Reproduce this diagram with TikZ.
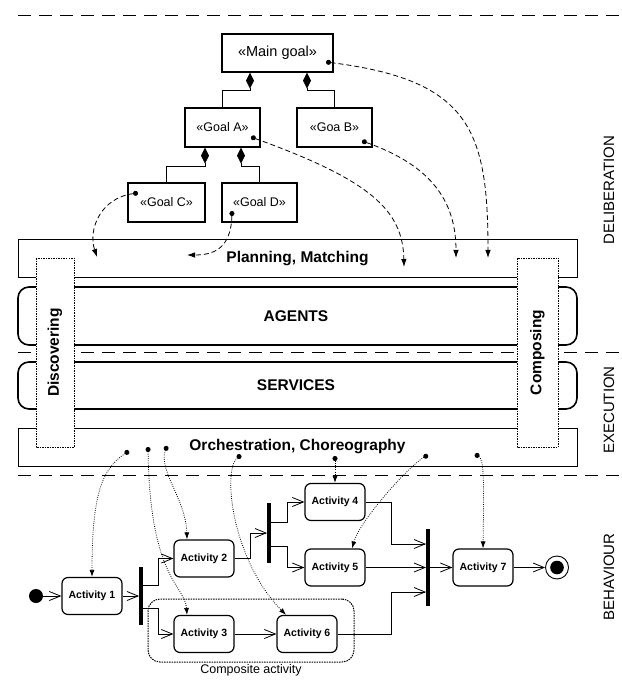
\documentclass[tikz,border=0pt]{standalone}
\usepackage{fontspec}
\setmainfont{Liberation Sans}
\usetikzlibrary{arrows.meta,positioning}

\begin{document}
\begin{tikzpicture}[x=1pt,y=-1pt,
      goal/.style={draw,line width=1.3pt,minimum width=75pt,minimum height=39pt,inner sep=1pt,
        font=\fontsize{12.5}{14}\selectfont},
      layer/.style={draw,line width=1pt,minimum width=559pt,inner sep=0pt,
        font=\fontsize{15.5}{18}\selectfont\bfseries},
      band/.style={minimum width=443pt,inner sep=0pt,font=\fontsize{15.5}{18}\selectfont\bfseries},
      bandline/.style={line width=1.7pt},
      dots/.style={dash pattern=on 1.5pt off 1pt},
      side/.style={draw,dots,line width=1pt,fill=white,rotate=90,minimum width=189pt,inner sep=0pt,
        font=\fontsize{15.5}{18}\selectfont\bfseries},
      brace/.style={line width=1.6pt,rounded corners=11pt},
      level/.style={rotate=90,inner sep=0pt,font=\fontsize{15}{18}\selectfont},
      sep/.style={dash pattern=on 13pt off 8pt,line width=0.8pt},
      part/.style={{Diamond[length=16pt,width=8pt]}-,line width=0.8pt},
      dep/.style={{Circle[length=5pt]}-{Latex[length=8pt,width=5.5pt]},dash pattern=on 5pt off 3pt,line width=0.8pt},
      bind/.style={{Circle[length=5pt]}-{Latex[length=7pt,width=5pt]},dash pattern=on 0.8pt off 1.4pt,line width=0.8pt},
      act/.style={draw,line width=1.2pt,rounded corners=6pt,minimum width=60pt,minimum height=37pt,
        inner sep=1pt,font=\fontsize{10.5}{12}\selectfont\bfseries},
      bar/.style={fill,minimum width=3.5pt,inner sep=0pt},
      flow/.style={-{Straight Barb[length=11pt,width=9pt]},line width=0.8pt}]
  \useasboundingbox (0,0) rectangle (621,684);

  \foreach \y in {15,352,475}
    \draw[sep] (18,\y) -- (621,\y);
  \foreach \t/\y in {DELIBERATION/190,EXECUTION/410,BEHAVIOUR/577}
    \node[level] (lvl\y) at (609,\y) {\t};

  \node[goal,minimum width=111pt,minimum height=38pt,font=\fontsize{14.5}{16}\selectfont]
    (main) at (277.5,53) {«Main goal»};
  \node[goal] (goalA) at (222.5,127.5) {«Goal A»};
  \node[goal] (goalB) at (334.5,127.5) {«Goa B»};
  \node[goal,minimum width=77pt] (goalC) at (166.5,202.5) {«Goal C»};
  \node[goal] (goalD) at (259.5,202.5) {«Goal D»};

  \draw[part] ([xshift=-27.5pt]main.south) -- ++(0,18) -| (goalA.north);
  \draw[part] ([xshift=29.5pt]main.south) -- ++(0,18) -| (goalB.north);
  \draw[part] ([xshift=-17.5pt]goalA.south) -- ++(0,19) -| (goalC.north);
  \draw[part] ([xshift=18.5pt]goalA.south) -- ++(0,19) -| (goalD.north);

  \node[layer,minimum height=37pt] (plan) at (297.5,258.5) {Planning, Matching};
  \node[layer,minimum height=38pt] (orch) at (297.5,447) {Orchestration, Choreography};

  \node[band,minimum height=58pt] (agents) at (296,316) {AGENTS};
  \node[band,minimum height=47pt] (services) at (296,385.5) {SERVICES};
  \foreach \n in {agents,services}
    \draw[bandline] (\n.north west) -- (\n.north east) (\n.south west) -- (\n.south east);

  \foreach \a/\b in {287/345,362/409} {
    \draw[brace] (36,\a) -- (18,\a) -- (18,\b) -- (36,\b);
    \draw[brace] (558,\a) -- (577,\a) -- (577,\b) -- (558,\b);
  }

  \node[side,minimum height=38pt] (disc) at (55,352.5) {Discovering};
  \node[side,minimum height=41pt] (compo) at (537.5,352.5) {Composing};

  \coordinate (mgd) at (326,62);
  \coordinate (gad) at (251,137);
  \coordinate (gbd) at (362,141);
  \coordinate (gcd) at (138,193);
  \coordinate (gdd) at (232,211);
  \coordinate (pm1) at (97,257);
  \coordinate (pm2) at (187,255);
  \coordinate (pm3) at (404,267);
  \coordinate (pm4) at (456,258);
  \coordinate (pm5) at (488,258);
  \draw[dep] (mgd) .. controls (470,80) and (488,130) .. (pm5);
  \draw[dep] (gbd) .. controls (430,165) and (456,200) .. (pm4);
  \draw[dep] (gad) .. controls (370,180) and (403,210) .. (pm3);
  \draw[dep] (gcd) .. controls (100,198) and (88,230) .. (pm1);
  \draw[dep] (gdd) .. controls (231,250) and (212,255) .. (pm2);

  \node[draw,dots,line width=1pt,rounded corners=12pt,minimum width=206pt,minimum height=63pt]
    (cmpst) at (251,630.5) {};
  \node[below=0pt of cmpst,inner sep=2pt,font=\fontsize{12.5}{14}\selectfont] (cmpl) {Composite activity};

  \node[circle,fill,minimum size=14pt,inner sep=0pt] (init) at (36,596) {};
  \node[act] (act1) at (92,596) {Activity 1};
  \node[bar,minimum height=58pt] (fork1) at (141,596) {};
  \node[act] (act2) at (204,558.5) {Activity 2};
  \node[act] (act3) at (204,634) {Activity 3};
  \node[act] (act6) at (307,634) {Activity 6};
  \node[bar,minimum height=60pt] (fork2) at (269,533) {};
  \node[act] (act4) at (335,502) {Activity 4};
  \node[act] (act5) at (335,567.5) {Activity 5};
  \node[bar,minimum height=77pt] (join) at (428,567.5) {};
  \node[act] (act7) at (483,567.5) {Activity 7};
  \node[circle,draw,line width=0.9pt,minimum size=23pt,inner sep=0pt,
    path picture={\fill (path picture bounding box.center) circle (6.8pt);}] (fin) at (557,567.5) {};

  \draw[flow] (init) -- (act1);
  \draw[flow] (act1) -- (fork1);
  \draw[flow] ([yshift=11pt]fork1.east) -- ++(15,0) |- (act2.west);
  \draw[flow] ([yshift=-12pt]fork1.east) -- ++(15,0) |- (act3.west);
  \draw[flow] (act3) -- (act6);
  \draw[flow] (act2.east) -- ++(16,0) |- (fork2.west);
  \draw[flow] ([yshift=11pt]fork2.east) -- ++(16,0) |- (act4.west);
  \draw[flow] ([yshift=-13pt]fork2.east) -- ++(16,0) |- (act5.west);
  \draw[flow] (act4.east) -- ++(26,0) |- ([yshift=23.5pt]join.west);
  \draw[flow] (act5) -- (join);
  \draw[flow] (act6.east) -- ++(54,0) |- ([yshift=-24.5pt]join.west);
  \draw[flow] (join) -- (act7);
  \draw[flow] (act7) -- (fin);

  \foreach \i/\x/\y in {1/129/451,2/148/447,3/167/446,4/241/455,5/335/456,6/428/455,7/475/454}
    \coordinate (od\i) at (\x,\y);
  \draw[bind] (od1) .. controls (100,470) and (92,500) .. (act1.north);
  \draw[bind] (od2) .. controls (150,580) and (185,585) .. ([xshift=-17pt]act3.north);
  \draw[bind] (od3) .. controls (158,470) and (186,500) .. ([xshift=-17pt]act2.north);
  \draw[bind] (od4) .. controls (222,470) and (232,560) .. ([xshift=-21pt]act6.north);
  \draw[bind] (od5) -- (act4.north);
  \draw[bind] (od6) .. controls (410,465) and (360,520) .. ([xshift=17pt]act5.north);
  \draw[bind] (od7) .. controls (484,460) and (484,480) .. (act7.north);
\end{tikzpicture}
\end{document}
